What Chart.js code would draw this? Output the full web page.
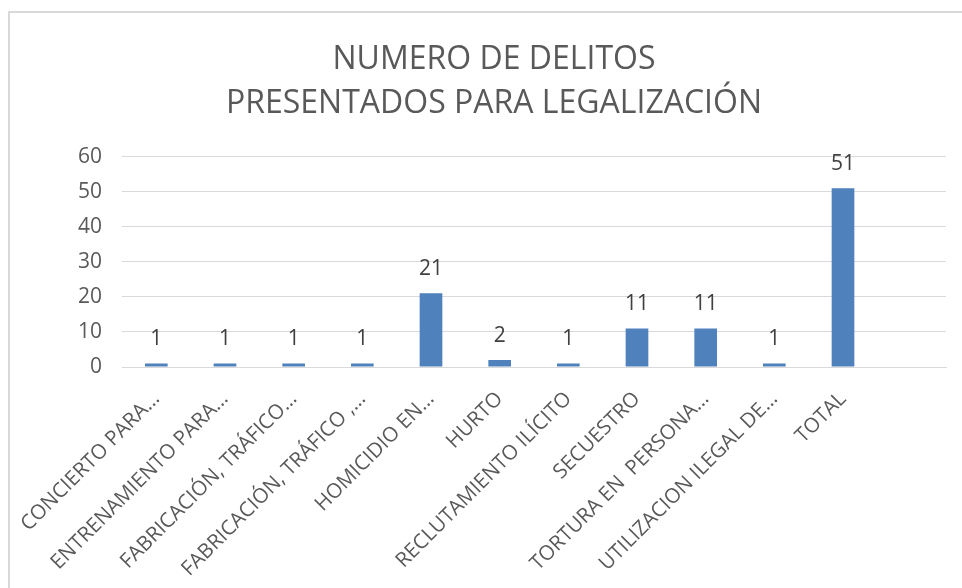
<!DOCTYPE html>
<html>
<head>
<meta charset="utf-8">
<script src="https://cdn.jsdelivr.net/npm/chart.js@4"></script>
<style>
  html, body { margin: 0; padding: 0; background: #fff; }
  #frame { position: absolute; left: 8px; top: 11px; width: 960px; height: 600px;
           border-left: 2px solid #d9d9d9; border-top: 2px solid #d9d9d9; }
  #wrap { position: absolute; left: 0; top: 0; width: 962px; height: 588px; }
</style>
</head>
<body>
<div id="frame"></div>
<div id="wrap"><canvas id="myChart" width="962" height="588"></canvas></div>
<script>
const categories = [
    'CONCIERTO PARA…',
    'ENTRENAMIENTO PARA…',
    'FABRICACIÓN, TRÁFICO…',
    'FABRICACIÓN, TRÁFICO ,…',
    'HOMICIDIO EN…',
    'HURTO',
    'RECLUTAMIENTO ILÍCITO',
    'SECUESTRO',
    'TORTURA EN  PERSONA…',
    'UTILIZACION ILEGAL DE…',
    'TOTAL',
    ''
];
const delitos = [1, 1, 1, 1, 21, 2, 1, 11, 11, 1, 51, null];
const yTicks = [0, 10, 20, 30, 40, 50, 60];
const titleLines = ['NUMERO DE DELITOS', 'PRESENTADOS PARA LEGALIZACIÓN'];

const fontFamily = '"Open Sans", "DejaVu Sans", sans-serif';

// value labels above each bar
const valueLabels = {
    id: 'valueLabels',
    afterDatasetsDraw(chart) {
        const c = chart.ctx;
        const meta = chart.getDatasetMeta(0);
        c.save();
        c.font = '21px ' + fontFamily;
        c.fillStyle = '#404040';
        c.textAlign = 'center';
        c.textBaseline = 'alphabetic';
        meta.data.forEach((bar, i) => {
            if (delitos[i] == null) return;
            c.fillText(String(delitos[i]), bar.x, bar.y - 18);
        });
        c.restore();
    }
};

const ctx = document.getElementById('myChart').getContext('2d');

const myChart = new Chart(ctx, {
    type: 'bar',
    data: {
        labels: categories,
        datasets: [{
            label: 'Delitos',
            data: delitos,
            backgroundColor: '#4F81BD',
            borderWidth: 0,
            categoryPercentage: 1,
            barPercentage: 0.33
        }]
    },
    options: {
        responsive: false,
        animation: false,
        layout: { padding: { left: 42, right: 16, top: 25, bottom: 0 } },
        plugins: {
            legend: { display: false },
            tooltip: { enabled: false },
            title: {
                display: true,
                text: titleLines,
                color: '#595959',
                font: { family: fontFamily, size: 32, weight: 'normal', lineHeight: 1.4 },
                padding: { top: 12, bottom: 30 }
            }
        },
        scales: {
            x: {
                afterFit(axis) {
                    axis.height = 221;
                },
                grid: { display: false },
                border: { color: '#d9d9d9', width: 1 },
                ticks: {
                    color: '#595959',
                    font: { family: fontFamily, size: 20.5 },
                    maxRotation: 45,
                    minRotation: 45,
                    autoSkip: false,
                    padding: 12
                }
            },
            y: {
                min: 0,
                max: 60,
                afterBuildTicks(axis) {
                    axis.ticks = yTicks.map(v => ({ value: v }));
                },
                afterFit(axis) {
                    axis.width = 80;
                },
                grid: { color: '#d9d9d9', drawTicks: false },
                border: { display: false },
                ticks: {
                    color: '#595959',
                    font: { family: fontFamily, size: 21 },
                    padding: 20
                }
            }
        }
    },
    plugins: [valueLabels]
});
</script>
</body>
</html>
